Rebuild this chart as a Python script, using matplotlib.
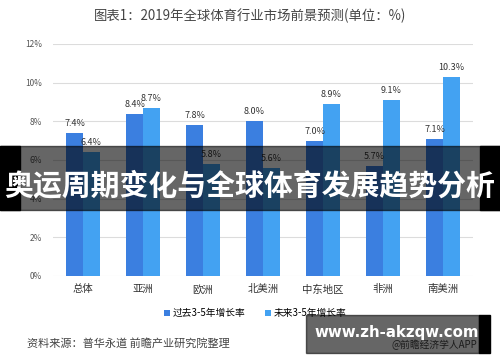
import matplotlib.pyplot as plt
import matplotlib.patches as mpatches
import numpy as np

plt.rcParams['font.family'] = ['Noto Sans CJK SC', 'DejaVu Sans']

# data
regions = ['总体', '亚洲', '欧洲', '北美洲', '中东地区', '非洲', '南美洲']
past = [7.4, 8.4, 7.8, 8.0, 7.0, 5.7, 7.1]
future = [6.4, 8.7, 5.8, 5.6, 8.9, 9.1, 10.3]
series_names = ['过去3-5年增长率', '未来3-5年增长率']
yticks = [0, 2, 4, 6, 8, 10, 12]

c_past = '#3b7fe0'
c_future = '#43a2f2'

fig = plt.figure(figsize=(5, 3.62), dpi=100)
ax = fig.add_axes([0.106, 0.2376, 0.84, 0.641])

x = np.arange(len(regions))
w = 0.28
b1 = ax.bar(x - w / 2, past, w, color=c_past, label=series_names[0], zorder=2)
b2 = ax.bar(x + w / 2, future, w, color=c_future, label=series_names[1], zorder=2)

for bars, vals in [(b1, past), (b2, future)]:
    for r, v in zip(bars, vals):
        ax.text(r.get_x() + r.get_width() / 2, v + 0.25, f'{v:.1f}%',
                ha='center', va='bottom', fontsize=6.5, color='#333333')

ax.set_xlim(-0.5, 6.5)
ax.set_ylim(0, 12)
ax.set_yticks(yticks)
ax.set_yticklabels([f'{t}%' for t in yticks], fontsize=6, color='#555555')
ax.set_xticks(x)
ax.set_xticklabels(regions, fontsize=7.5, color='#333333')
ax.tick_params(length=0, pad=6)
ax.tick_params(axis='y', pad=8)
ax.grid(axis='y', color='#dcdcdc', linewidth=0.8, zorder=0)
for s in ax.spines.values():
    s.set_visible(False)

fig.text(0.5, 0.955, '图表1：2019年全球体育行业市场前景预测(单位：%)',
         ha='center', va='center', fontsize=9.6, color='#444444')

leg = fig.legend(loc='center', bbox_to_anchor=(0.51, 0.135), ncol=2, frameon=False,
                 fontsize=7, handlelength=0.6, handleheight=0.6, columnspacing=2.0,
                 handletextpad=0.3)

fig.text(0.054, 0.05, '资料来源：普华永道 前瞻产业研究院整理', ha='left', va='center',
         fontsize=8, color='#444444')
fig.text(0.955, 0.047, '@前瞻经济学人APP', ha='right', va='center',
         fontsize=7, color='#444444')

# overlay banner
fig.patches.append(mpatches.Rectangle((0, 1 - 210 / 362), 1, 64 / 362,
                                      transform=fig.transFigure, color='black',
                                      alpha=0.6, zorder=10))
fig.patches.append(mpatches.Rectangle((0, 1 - 210 / 362), 20 / 500, 64 / 362,
                                      transform=fig.transFigure, color='black',
                                      zorder=11))
fig.patches.append(mpatches.Rectangle((480 / 500, 1 - 210 / 362), 20 / 500, 64 / 362,
                                      transform=fig.transFigure, color='black',
                                      zorder=11))
fig.text(0.5, 1 - 185 / 362, '奥运周期变化与全球体育发展趋势分析', ha='center', va='center',
         fontsize=20.8, color='white', fontweight='bold', zorder=12)

# watermark box
fig.patches.append(mpatches.Rectangle((306 / 500, 1 - 353 / 362), 173 / 500, 38 / 362,
                                      transform=fig.transFigure, color='black',
                                      alpha=0.6, zorder=10))
fig.patches.append(mpatches.Rectangle((479 / 500, 1 - 353 / 362), 11 / 500, 38 / 362,
                                      transform=fig.transFigure, color='black',
                                      zorder=11))
fig.text(0.794, 1 - 333 / 362, 'www.zh-akzqw.com', ha='center', va='center',
         fontsize=10.8, color='white', fontweight='bold', family='DejaVu Sans', zorder=12)

fig.savefig('out.png', dpi=100)
